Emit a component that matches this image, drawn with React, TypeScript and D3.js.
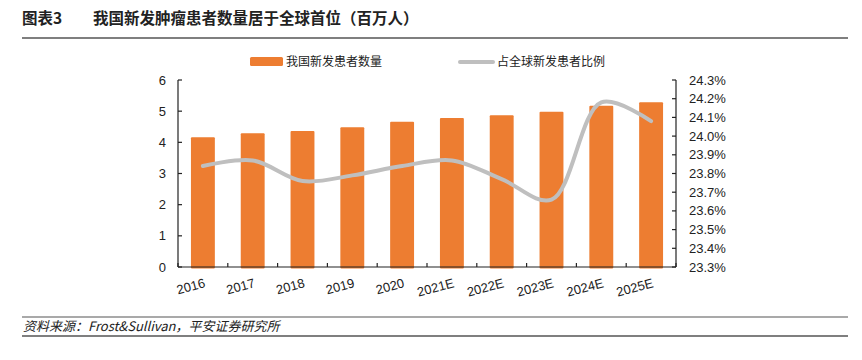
import React, { useEffect, useRef } from 'react';
import * as d3 from 'd3';

const years = ['2016', '2017', '2018', '2019', '2020', '2021E', '2022E', '2023E', '2024E', '2025E'];
const patients = [4.16, 4.29, 4.36, 4.48, 4.66, 4.78, 4.87, 4.98, 5.17, 5.29];
const share = [23.84, 23.87, 23.76, 23.79, 23.84, 23.87, 23.77, 23.66, 24.18, 24.08];
const leftTicks = [0, 1, 2, 3, 4, 5, 6];
const rightTicks = [23.3, 23.4, 23.5, 23.6, 23.7, 23.8, 23.9, 24.0, 24.1, 24.2, 24.3];

const W = 862;
const H = 360;
const CN = '"Noto Sans CJK SC", "Liberation Sans", sans-serif';
const NUM = '"Liberation Sans", Arial, sans-serif';

export default function App() {
  const ref = useRef<SVGSVGElement | null>(null);

  useEffect(() => {
    if (!ref.current) return;
    const svg = d3.select(ref.current);
    svg.selectAll('*').remove();

    const x0 = 178, x1 = 676, yTop = 80, yBot = 267;

    const x = d3.scaleBand<string>().domain(years).range([x0, x1]).paddingInner(0.52).paddingOuter(0.26);
    const yL = d3.scaleLinear().domain([0, 6]).range([yBot, yTop]);
    const yR = d3.scaleLinear().domain([23.3, 24.3]).range([yBot, yTop]);
    const band = (x1 - x0) / years.length;

    // title
    svg.append('text').attr('x', 22).attr('y', 24)
      .style('font', `bold 15.5px ${CN}`).attr('fill', '#222').text('图表3');
    svg.append('text').attr('x', 93).attr('y', 24)
      .style('font', `bold 15.5px ${CN}`).attr('fill', '#222').text('我国新发肿瘤患者数量居于全球首位（百万人）');
    svg.append('line').attr('x1', 22).attr('x2', 848).attr('y1', 38).attr('y2', 38)
      .attr('stroke', '#555').attr('stroke-width', 1.5);

    // legend
    svg.append('rect').attr('x', 250).attr('y', 57).attr('width', 33).attr('height', 9).attr('rx', 1.5).attr('fill', '#ED7D31');
    svg.append('text').attr('x', 286).attr('y', 65.5).style('font', `12px ${CN}`).attr('fill', '#222').text('我国新发患者数量');
    svg.append('line').attr('x1', 460).attr('x2', 493).attr('y1', 62).attr('y2', 62)
      .attr('stroke', '#BFBFBF').attr('stroke-width', 4).attr('stroke-linecap', 'round');
    svg.append('text').attr('x', 497).attr('y', 65.5).style('font', `12px ${CN}`).attr('fill', '#222').text('占全球新发患者比例');

    // bars
    svg.append('g').selectAll('rect').data(years).join('rect')
      .attr('x', d => x(d)!)
      .attr('width', x.bandwidth())
      .attr('y', (d, i) => yL(patients[i]))
      .attr('height', (d, i) => yBot + 1.5 - yL(patients[i]))
      .attr('rx', 1)
      .attr('fill', '#ED7D31');

    // line
    const line = d3.line<number>()
      .x((d, i) => x(years[i])! + x.bandwidth() / 2)
      .y(d => yR(d))
      .curve(d3.curveCatmullRom.alpha(0.5));
    svg.append('path').attr('d', line(share)!)
      .attr('fill', 'none').attr('stroke', '#BFBFBF').attr('stroke-width', 4).attr('stroke-linecap', 'round');

    // axes
    const ax = svg.append('g').attr('stroke', '#222').attr('stroke-width', 1.2);
    ax.append('line').attr('x1', x0).attr('x2', x0).attr('y1', yTop).attr('y2', yBot);
    ax.append('line').attr('x1', x1).attr('x2', x1).attr('y1', yTop).attr('y2', yBot);
    ax.append('line').attr('x1', x0).attr('x2', x1).attr('y1', yBot).attr('y2', yBot);
    leftTicks.forEach(t => {
      ax.append('line').attr('x1', x0).attr('x2', x0 + 4).attr('y1', yL(t)).attr('y2', yL(t));
    });
    rightTicks.forEach(t => {
      ax.append('line').attr('x1', x1 - 4).attr('x2', x1).attr('y1', yR(t)).attr('y2', yR(t));
    });
    d3.range(years.length + 1).forEach(i => {
      const xx = x0 + i * band;
      ax.append('line').attr('x1', xx).attr('x2', xx).attr('y1', yBot - 4).attr('y2', yBot);
    });

    svg.append('g').selectAll('text').data(leftTicks).join('text')
      .attr('x', 166).attr('y', d => yL(d) + 4.5)
      .attr('text-anchor', 'end')
      .style('font', `13px ${NUM}`).attr('fill', '#222')
      .text(d => String(d));

    svg.append('g').selectAll('text').data(rightTicks).join('text')
      .attr('x', 689).attr('y', d => yR(d) + 4.5)
      .style('font', `13px ${NUM}`).attr('fill', '#222')
      .text(d => d3.format('.1f')(d) + '%');

    svg.append('g').selectAll('text').data(years).join('text')
      .attr('transform', d => `translate(${x(d)! + x.bandwidth() / 2 + 3},${287}) rotate(-15)`)
      .attr('text-anchor', 'end')
      .style('font', `13px ${NUM}`).attr('fill', '#222')
      .text(d => d);

    // footer
    svg.append('line').attr('x1', 22).attr('x2', 848).attr('y1', 317).attr('y2', 317)
      .attr('stroke', '#555').attr('stroke-width', 1.2);
    svg.append('text').attr('x', 23).attr('y', 331)
      .style('font', `italic 13px ${CN}`).attr('fill', '#222')
      .text('资料来源：Frost&Sullivan，平安证券研究所');
    svg.append('line').attr('x1', 22).attr('x2', 848).attr('y1', 336).attr('y2', 336)
      .attr('stroke', '#555').attr('stroke-width', 1.5);
  }, []);

  return (
    <div style={{ position: 'absolute', left: 0, top: 0 }}>
      <svg ref={ref} width={W} height={H} style={{ display: 'block', background: 'white' }} />
    </div>
  );
}
